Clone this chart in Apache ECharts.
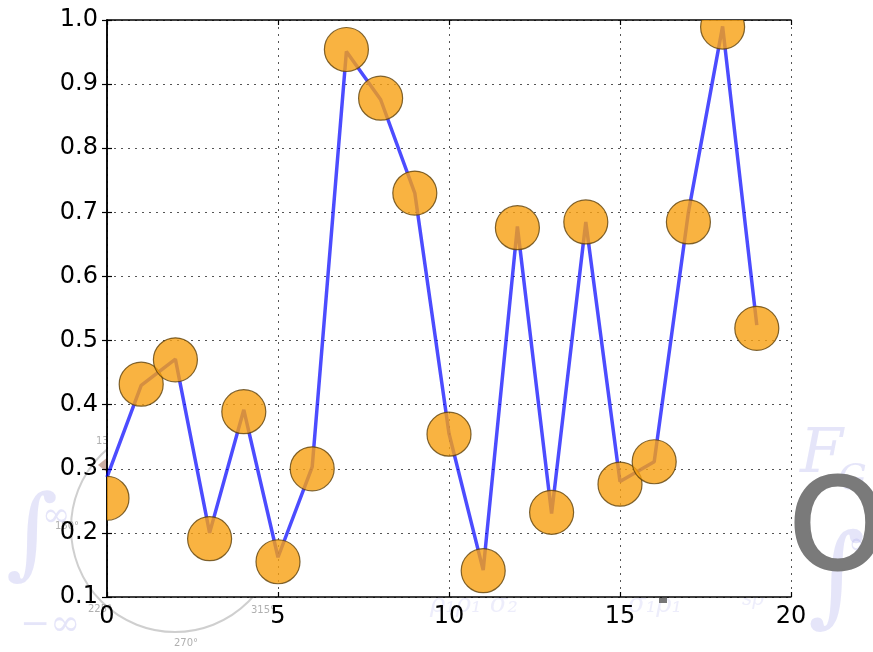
<!DOCTYPE html>
<html>
<head>
<meta charset="utf-8">
<script src="https://cdn.jsdelivr.net/npm/echarts@6/dist/echarts.min.js"></script>
<style>
  html, body { margin: 0; padding: 0; background: #ffffff; }
  #chart { width: 873px; height: 652px; }
</style>
</head>
<body>
<div id="chart"></div>
<script>
// Sample positions along the x axis
const xValues = [0, 1, 2, 3, 4, 5, 6, 7, 8, 9, 10, 11, 12, 13, 14, 15, 16, 17, 18, 19];
// Values traced by the blue line
const lineValues = [0.287, 0.430, 0.471, 0.200, 0.392, 0.162, 0.303, 0.951, 0.876, 0.730,
                    0.355, 0.142, 0.678, 0.230, 0.685, 0.280, 0.311, 0.700, 0.990, 0.524];
// Values of the orange circle markers
const markerValues = [0.254, 0.432, 0.470, 0.191, 0.389, 0.155, 0.300, 0.954, 0.878, 0.730,
                      0.354, 0.141, 0.676, 0.232, 0.685, 0.276, 0.311, 0.685, 0.989, 0.519];
// Axis ticks
const xTicks = [0, 5, 10, 15, 20];
const yTicks = [0.1, 0.2, 0.3, 0.4, 0.5, 0.6, 0.7, 0.8, 0.9, 1.0];

const FONT = 'DejaVu Sans';
const MARKER_RADIUS = 22;
const lineData = xValues.map((x, i) => [x, lineValues[i]]);
const markerData = xValues.map((x, i) => [x, markerValues[i]]);

const xRange = { min: xTicks[0], max: xTicks[xTicks.length - 1], interval: xTicks[1] - xTicks[0] };
const yRange = { min: yTicks[0], max: yTicks[yTicks.length - 1], interval: 0.1 };

const spine = { show: true, lineStyle: { color: '#000', width: 1.5 } };
const innerTick = { show: true, inside: true, length: 5, lineStyle: { color: '#000', width: 1.2 } };
const dotted = { show: true, lineStyle: { color: '#555', width: 1, type: [2, 5] } };

// Faint background decoration (drawn beneath the plot area)
const faint = 'rgba(175,175,235,0.32)';
const faintest = 'rgba(175,175,235,0.22)';
const decor = [
  { type: 'circle', z: -10, shape: { cx: 175, cy: 528, r: 104 },
    style: { fill: 'none', stroke: 'rgba(160,160,160,0.5)', lineWidth: 2 } },
  { type: 'text', z: -10, style: { x: 96, y: 436, text: '135°', fill: '#b0b0b0', font: '10px "DejaVu Sans"' } },
  { type: 'text', z: -10, style: { x: 55, y: 521, text: '180°', fill: '#b0b0b0', font: '10px "DejaVu Sans"' } },
  { type: 'text', z: -10, style: { x: 88, y: 604, text: '225°', fill: '#b0b0b0', font: '10px "DejaVu Sans"' } },
  { type: 'text', z: -10, style: { x: 174, y: 638, text: '270°', fill: '#b0b0b0', font: '10px "DejaVu Sans"' } },
  { type: 'text', z: -10, style: { x: 251, y: 605, text: '315°', fill: '#b0b0b0', font: '10px "DejaVu Sans"' } },
  { type: 'polygon', z: -10, shape: { points: [[98, 465], [108, 457], [108, 473]] },
    style: { fill: 'rgba(170,120,100,0.6)' } },
  { type: 'text', z: -10, style: { x: 6, y: 490, text: '∫', fill: faint, font: 'italic 100px "DejaVu Serif"' } },
  { type: 'text', z: -10, style: { x: 42, y: 500, text: '∞', fill: faint, font: '34px "DejaVu Serif"' } },
  { type: 'text', z: -10, style: { x: 20, y: 608, text: '−∞', fill: faint, font: '36px "DejaVu Serif"' } },
  { type: 'text', z: -10, style: { x: 430, y: 592, text: 'ρ₁ρ₁ σ₂', fill: faintest, font: 'italic 26px "DejaVu Serif"' } },
  { type: 'text', z: -10, style: { x: 628, y: 592, text: 'σ₁ρ₁', fill: faintest, font: 'italic 26px "DejaVu Serif"' } },
  { type: 'text', z: -10, style: { x: 742, y: 590, text: 'sρ', fill: faintest, font: 'italic 20px "DejaVu Serif"' } },
  { type: 'text', z: -10, style: { x: 800, y: 425, text: 'F', fill: faint, font: 'italic 62px "DejaVu Serif"' } },
  { type: 'text', z: -10, style: { x: 838, y: 462, text: 'G', fill: faint, font: 'italic 36px "DejaVu Serif"' } },
  { type: 'text', z: -10, style: { x: 808, y: 528, text: '∫', fill: faint, font: 'italic 110px "DejaVu Serif"' } },
  { type: 'text', z: -10, style: { x: 848, y: 530, text: '∞', fill: faint, font: '32px "DejaVu Serif"' } },
  { type: 'rect', z: -10, shape: { x: 659, y: 598, width: 8, height: 5 }, style: { fill: '#777' } },
  { type: 'text', z: -10, style: { x: 789, y: 474, text: 'O', fill: '#7a7a7a', stroke: '#7a7a7a', lineWidth: 3,
                                   font: '124px "DejaVu Sans"' } }
];

const chart = echarts.init(document.getElementById('chart'), null, { renderer: 'canvas' });
chart.setOption({
  animation: false,
  backgroundColor: 'transparent',
  graphic: { elements: decor },
  grid: {
    left: 107, right: 82, top: 20, bottom: 55,
    show: true, backgroundColor: '#ffffff', borderWidth: 0
  },
  xAxis: [
    {
      type: 'value', position: 'bottom', ...xRange,
      axisLine: spine, axisTick: innerTick, splitLine: dotted,
      axisLabel: { color: '#000', fontFamily: FONT, fontSize: 24, margin: 8 }
    },
    {
      type: 'value', position: 'top', ...xRange,
      axisLine: spine, axisTick: innerTick, splitLine: { show: false },
      axisLabel: { show: false }
    }
  ],
  yAxis: [
    {
      type: 'value', position: 'left', ...yRange,
      axisLine: spine, axisTick: innerTick, splitLine: dotted,
      axisLabel: { color: '#000', fontFamily: FONT, fontSize: 24, margin: 9,
                   formatter: v => v.toFixed(1) }
    },
    {
      type: 'value', position: 'right', ...yRange,
      axisLine: spine, axisTick: innerTick, splitLine: { show: false },
      axisLabel: { show: false }
    }
  ],
  series: [
    {
      type: 'line', data: lineData, xAxisIndex: 0, yAxisIndex: 0,
      showSymbol: false, symbol: 'none', clip: true, z: 2,
      lineStyle: { color: 'rgba(0,0,255,0.7)', width: 3.5 }
    },
    {
      // circle markers, clipped to the plot area
      type: 'custom', data: markerData, xAxisIndex: 0, yAxisIndex: 0,
      encode: { x: 0, y: 1 }, clip: true, z: 3,
      renderItem: (params, api) => {
        const p = api.coord([api.value(0), api.value(1)]);
        return {
          type: 'circle',
          shape: { cx: p[0], cy: p[1], r: MARKER_RADIUS },
          style: { fill: 'rgba(248,160,18,0.8)', stroke: 'rgba(95,65,10,0.8)', lineWidth: 1.2 }
        };
      }
    }
  ]
});
</script>
</body>
</html>
